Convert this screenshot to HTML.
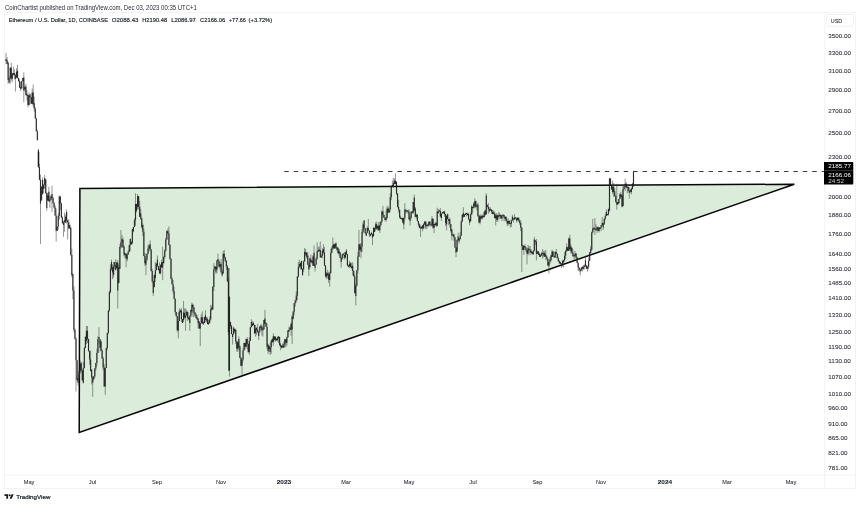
<!DOCTYPE html>
<html lang="en"><head><meta charset="utf-8"><title>ETHUSD chart</title>
<style>
html,body{margin:0;padding:0;background:#fff;}
body{width:860px;height:505px;overflow:hidden;font-family:"Liberation Sans",sans-serif;}
svg{display:block;}
text{font-family:"Liberation Sans",sans-serif;}
</style></head><body>
<svg width="860" height="505" viewBox="0 0 860 505">
<rect width="860" height="505" fill="#fff"/>
<!-- header -->
<g opacity="0.99" style="will-change:transform"><text x="5" y="9.8" font-size="6.8" fill="#262932" textLength="191.8" lengthAdjust="spacingAndGlyphs">CoinChartist published on TradingView.com, Dec 03, 2023 00:35 UTC+1</text></g>
<!-- frame -->
<g fill="none" stroke="#f2f3f5" stroke-width="1">
<rect x="4.5" y="12.5" width="851" height="476"/>
<path d="M824.7 12.5V488.5M4.5 475.1H855.5"/>
<rect x="826.6" y="14.5" width="26.8" height="11.6" rx="1.5" stroke="#eff0f3"/>
</g>
<!-- triangle -->
<path d="M79.9 188.4L794.3 184.2L79.2 432.5Z" fill="#dbecdb" stroke="#060606" stroke-width="1.5" stroke-linejoin="miter"/>
<!-- dashed level -->
<path d="M284.3 171.5H824.5" stroke="#333" stroke-width="0.95" stroke-dasharray="4.5 4.928" fill="none"/>
<!-- candles -->
<path d="M6.06 52.90V64.22M7.10 56.98V64.29M8.14 61.88V83.96M9.19 76.07V82.88M10.23 67.02V83.92M11.28 62.54V80.57M12.32 73.17V82.39M13.36 66.66V75.39M14.41 69.23V79.11M15.45 73.89V91.50M16.50 68.31V78.44M17.54 64.80V78.42M18.58 77.83V81.71M19.63 79.44V88.02M20.67 81.83V91.08M21.72 81.06V89.29M22.76 77.70V81.61M23.80 72.26V102.40M24.85 85.52V91.59M25.89 83.87V95.73M26.94 89.99V100.37M27.98 94.77V107.40M29.02 92.47V105.61M30.07 93.88V98.12M31.11 97.01V103.77M32.16 88.68V104.25M33.20 84.60V107.03M34.24 96.54V111.71M35.29 107.08V118.71M36.33 117.96V131.49M37.38 129.86V140.79M38.42 149.00V168.00M39.46 163.91V180.30M40.51 174.55V244.00M41.55 186.57V200.48M42.60 177.50V194.89M43.64 184.01V192.98M44.68 175.10V188.55M45.73 178.83V193.94M46.77 192.53V210.80M47.82 192.64V200.78M48.86 186.77V201.60M49.90 195.91V207.85M50.95 194.95V199.92M51.99 185.80V212.09M53.04 196.36V203.65M54.08 201.86V208.55M55.12 205.26V215.94M56.17 208.33V241.60M57.21 226.56V231.12M58.26 213.01V229.65M59.30 195.30V219.78M60.34 196.31V210.16M61.39 202.48V217.70M62.43 216.25V223.57M63.48 220.84V236.90M64.52 212.72V231.77M65.56 214.76V222.84M66.61 209.60V223.55M67.65 219.78V239.30M68.70 219.43V229.29M69.74 224.57V229.01M70.78 227.39V255.78M71.83 248.63V277.33M72.87 273.63V299.25M73.92 286.34V332.35M74.96 328.45V339.66M76.00 337.01V391.50M77.05 359.75V381.33M78.09 374.58V385.57M79.14 369.93V379.58M80.18 360.48V373.77M81.22 361.61V372.73M82.27 369.88V381.21M83.31 362.08V383.61M84.36 346.76V368.22M85.40 335.78V348.27M86.44 325.83V344.11M87.49 326.10V343.07M88.53 338.64V351.52M89.58 350.56V364.69M90.62 350.36V371.56M91.66 369.35V384.56M92.71 375.79V396.90M93.75 375.96V380.69M94.80 367.99V378.07M95.84 362.80V370.73M96.88 348.79V366.29M97.93 336.24V353.35M98.97 327.20V343.86M100.02 339.04V351.62M101.06 340.53V351.06M102.10 349.15V358.66M103.15 356.77V370.09M104.19 364.29V386.83M105.24 367.57V394.80M106.28 347.41V367.95M107.32 332.86V350.20M108.37 310.25V334.36M109.41 290.29V311.73M110.46 264.31V293.55M111.50 259.60V270.67M112.54 264.29V279.14M113.59 261.89V277.67M114.63 261.79V268.78M115.68 259.20V270.74M116.72 262.20V268.26M117.76 259.90V308.50M118.81 264.32V283.29M119.85 244.34V268.89M120.90 230.00V248.42M121.94 234.83V248.11M122.98 237.50V247.57M124.03 245.05V256.54M125.07 253.13V258.62M126.12 252.62V267.30M127.16 253.12V261.23M128.20 249.94V254.96M129.25 244.62V252.01M130.29 238.31V251.19M131.34 241.65V244.90M132.38 228.90V244.28M133.42 227.00V232.22M134.47 218.38V227.32M135.51 193.28V225.80M136.56 203.71V212.47M137.60 194.00V209.10M138.64 196.00V209.49M139.69 200.89V217.09M140.73 208.91V219.88M141.78 217.34V228.55M142.82 223.56V235.96M143.86 228.35V256.30M144.91 253.00V265.81M145.95 253.73V275.10M147.00 253.67V260.98M148.04 244.85V254.26M149.08 243.85V251.52M150.13 240.30V250.38M151.17 248.85V271.54M152.22 268.85V283.02M153.26 280.59V295.83M154.30 274.23V287.52M155.35 261.92V281.94M156.39 263.40V270.29M157.44 255.49V266.61M158.48 266.15V270.58M159.52 262.48V274.07M160.57 264.46V274.40M161.61 259.66V267.74M162.66 246.80V280.20M163.70 255.89V263.30M164.74 249.48V258.78M165.79 237.65V251.50M166.83 230.28V239.89M167.88 228.54V234.21M168.92 226.27V245.29M169.96 244.28V259.65M171.01 258.16V279.20M172.05 277.22V284.46M173.10 280.01V293.54M174.14 286.69V299.38M175.18 298.54V314.43M176.23 311.94V316.83M177.27 316.08V332.25M178.32 312.46V338.40M179.36 308.27V321.26M180.40 309.28V313.77M181.45 308.21V321.98M182.49 319.05V322.94M183.54 301.00V322.23M184.58 308.43V318.81M185.62 308.33V330.70M186.67 309.92V315.79M187.71 311.13V320.89M188.76 316.13V320.05M189.80 314.77V330.85M190.84 309.14V316.83M191.89 302.54V313.80M192.93 303.60V316.72M193.98 306.80V317.12M195.02 312.12V316.23M196.06 313.45V318.33M197.11 314.87V319.84M198.15 318.20V328.45M199.20 321.21V329.00M200.24 323.21V346.10M201.28 313.84V323.39M202.33 311.30V323.63M203.37 321.52V324.74M204.42 316.76V323.07M205.46 310.24V321.97M206.50 316.91V322.59M207.55 317.18V324.42M208.59 319.92V324.94M209.64 316.29V323.20M210.68 304.72V320.61M211.72 305.75V310.73M212.77 286.09V309.84M213.81 263.15V291.10M214.86 265.94V269.56M215.90 265.89V274.04M216.94 260.19V273.28M217.99 253.50V264.50M219.03 259.68V267.97M220.08 262.08V269.81M221.12 259.09V273.56M222.16 269.84V276.65M223.21 250.90V273.70M224.25 249.93V259.27M225.30 256.86V261.88M226.34 259.86V269.98M227.38 264.90V282.01M228.43 277.56V335.06M229.47 296.00V376.60M230.52 321.59V329.02M231.56 325.16V334.47M232.60 333.86V344.60M233.65 326.84V334.25M234.69 328.87V332.57M235.74 328.67V344.08M236.78 340.67V351.67M237.82 341.13V351.92M238.87 336.48V350.32M239.91 345.31V358.33M240.96 356.79V366.49M242.00 357.69V374.70M243.04 347.85V361.62M244.09 342.67V350.43M245.13 342.71V349.44M246.18 338.69V347.12M247.22 337.00V349.30M248.26 343.39V352.29M249.31 337.31V355.00M250.35 326.66V341.15M251.40 319.20V327.27M252.44 321.15V326.27M253.48 321.66V325.50M254.53 324.58V333.80M255.57 325.06V336.71M256.62 327.37V335.10M257.66 323.78V333.09M258.70 331.40V340.00M259.75 326.04V332.79M260.79 324.29V329.70M261.84 324.24V335.43M262.88 326.32V336.51M263.92 319.99V329.51M264.97 309.80V323.75M266.01 322.13V326.98M267.06 323.28V348.92M268.10 343.63V354.00M269.14 345.60V351.85M270.19 342.94V355.00M271.23 339.79V353.88M272.28 337.96V342.37M273.32 333.44V345.81M274.36 336.10V340.36M275.41 336.23V341.66M276.45 338.52V340.66M277.50 336.50V341.64M278.54 336.09V343.04M279.58 336.68V346.33M280.63 342.83V350.31M281.67 345.41V348.43M282.72 343.50V347.59M283.76 341.65V347.98M284.80 338.73V347.67M285.85 339.05V346.92M286.89 336.53V345.74M287.94 330.20V337.78M288.98 326.55V331.69M290.02 326.41V330.30M291.07 322.35V335.83M292.11 315.28V343.91M293.16 310.88V319.43M294.20 302.86V315.27M295.24 299.42V306.72M296.29 291.47V302.71M297.33 276.36V300.31M298.38 262.00V277.81M299.42 259.79V268.27M300.46 262.04V269.73M301.51 260.67V269.93M302.55 268.15V275.43M303.60 260.43V271.89M304.64 248.00V261.56M305.68 248.88V256.33M306.73 252.28V258.66M307.77 252.41V264.72M308.82 262.41V276.20M309.86 257.42V268.56M310.90 254.63V262.50M311.95 260.43V263.40M312.99 255.13V265.80M314.04 245.41V265.99M315.08 264.25V271.50M316.12 256.96V264.88M317.17 242.30V259.98M318.21 247.06V252.07M319.26 246.40V251.72M320.30 241.44V257.73M321.34 254.40V257.69M322.39 248.19V258.32M323.43 244.20V253.98M324.48 246.93V265.98M325.52 264.99V277.57M326.56 272.06V279.16M327.61 269.81V278.34M328.65 272.01V282.88M329.70 271.56V286.60M330.74 248.81V273.57M331.78 246.43V253.34M332.83 237.60V250.03M333.87 242.76V248.82M334.92 243.91V248.73M335.96 242.25V248.54M337.00 246.63V251.12M338.05 247.04V253.88M339.09 248.53V255.79M340.14 252.23V258.07M341.18 257.08V267.70M342.22 253.99V259.62M343.27 253.45V255.25M344.31 252.12V259.60M345.36 252.01V258.74M346.40 248.90V254.89M347.44 253.88V266.31M348.49 264.62V267.46M349.53 260.95V268.05M350.58 261.97V267.53M351.62 262.76V269.48M352.66 262.46V275.45M353.71 270.40V276.66M354.75 274.22V293.59M355.80 283.23V305.40M356.84 270.09V286.88M357.88 252.18V273.72M358.93 230.00V256.81M359.97 243.55V250.22M361.02 243.08V258.30M362.06 228.97V251.92M363.10 221.85V233.41M364.15 220.07V229.40M365.19 228.19V233.64M366.24 232.29V235.91M367.28 226.19V233.08M368.32 218.80V230.74M369.37 230.47V237.06M370.41 233.72V236.54M371.46 231.71V235.27M372.50 233.73V245.10M373.54 226.78V236.43M374.59 227.39V231.91M375.63 222.10V230.59M376.68 221.65V229.95M377.72 225.77V230.79M378.76 222.06V230.78M379.81 222.17V233.10M380.85 221.28V226.49M381.90 210.31V223.19M382.94 205.80V217.60M383.98 214.75V217.85M385.03 217.33V220.67M386.07 210.39V221.90M387.12 205.88V218.59M388.16 206.46V212.82M389.20 207.84V213.10M390.25 193.40V211.91M391.29 185.88V199.95M392.34 180.42V187.25M393.38 177.50V187.89M394.42 178.53V184.54M395.47 173.48V184.51M396.51 181.41V195.04M397.56 193.28V207.59M398.60 199.79V212.61M399.64 209.47V218.41M400.69 215.73V219.03M401.73 217.97V219.49M402.78 217.64V223.18M403.82 217.51V229.30M404.86 203.00V220.28M405.91 208.90V213.25M406.95 210.43V212.37M408.00 209.89V213.93M409.04 209.19V219.49M410.08 215.32V225.60M411.13 211.41V219.32M412.17 210.79V214.17M413.22 201.80V213.43M414.26 194.50V211.50M415.30 206.78V217.45M416.35 213.44V218.70M417.39 214.54V221.48M418.44 220.99V226.43M419.48 223.58V228.18M420.52 225.22V236.90M421.57 226.25V228.80M422.61 224.90V231.29M423.66 223.53V228.56M424.70 220.90V224.67M425.74 220.98V229.08M426.79 223.15V229.09M427.83 224.34V226.67M428.88 221.08V226.61M429.92 221.16V225.34M430.96 224.35V226.68M432.01 216.10V225.99M433.05 218.56V228.76M434.10 223.73V233.10M435.14 221.84V225.45M436.18 222.34V226.88M437.23 207.70V226.46M438.27 209.02V213.91M439.32 209.73V211.62M440.36 207.86V217.50M441.40 213.53V220.90M442.45 211.83V213.70M443.49 211.59V213.86M444.54 210.77V216.61M445.58 213.88V226.18M446.62 215.78V230.30M447.67 213.46V219.40M448.71 218.98V225.26M449.76 217.55V227.27M450.80 224.03V232.37M451.84 229.01V240.30M452.89 234.39V236.34M453.93 233.40V240.84M454.98 236.79V247.91M456.02 247.48V257.20M457.06 239.32V251.97M458.11 232.70V241.78M459.15 238.05V243.59M460.20 232.13V239.54M461.24 220.23V235.91M462.28 214.43V222.04M463.33 207.30V217.80M464.37 214.22V217.15M465.42 212.74V215.20M466.46 212.81V216.45M467.50 212.57V215.69M468.55 212.77V220.15M469.59 218.85V225.20M470.64 212.70V221.51M471.68 204.76V214.76M472.72 206.40V212.86M473.77 202.09V208.79M474.81 198.22V207.64M475.86 200.30V208.14M476.90 204.33V210.41M477.94 202.61V216.36M478.99 215.12V223.30M480.03 214.50V224.42M481.08 214.62V220.09M482.12 214.48V219.18M483.16 215.40V218.44M484.21 210.63V217.59M485.25 209.56V215.67M486.30 193.20V215.00M487.34 204.42V207.28M488.38 203.11V213.74M489.43 207.08V212.35M490.47 207.48V210.57M491.52 209.34V213.85M492.56 209.90V214.43M493.60 210.43V214.53M494.65 211.50V218.17M495.69 213.39V225.48M496.74 213.12V221.76M497.78 214.44V221.74M498.82 211.89V216.98M499.87 213.26V218.91M500.91 214.90V218.53M501.96 215.36V220.97M503.00 214.49V216.31M504.04 214.60V221.43M505.09 216.72V220.13M506.13 216.69V221.21M507.18 219.22V226.10M508.22 218.42V225.70M509.26 220.02V224.05M510.31 222.66V227.57M511.35 219.82V227.10M512.40 214.80V221.13M513.44 217.72V222.67M514.48 214.17V219.62M515.53 216.87V219.32M516.57 217.54V222.52M517.62 217.41V220.44M518.66 217.57V222.07M519.70 219.62V224.76M520.75 220.57V231.18M521.79 227.08V272.00M522.84 245.12V250.31M523.88 245.41V254.99M524.92 244.17V248.39M525.97 246.83V251.91M527.01 249.72V264.40M528.06 245.00V255.25M529.10 246.01V250.30M530.14 246.05V255.35M531.19 249.29V253.22M532.23 251.75V254.39M533.28 250.04V254.97M534.32 236.80V251.58M535.36 239.84V244.86M536.41 238.91V260.30M537.45 250.52V254.11M538.50 251.27V254.73M539.54 253.06V256.93M540.58 253.92V256.86M541.63 251.87V256.29M542.67 249.00V258.61M543.72 250.90V257.48M544.76 250.97V256.74M545.80 249.88V260.15M546.85 255.83V260.20M547.89 258.74V266.40M548.94 261.71V273.50M549.98 257.03V263.85M551.02 254.71V261.20M552.07 249.64V257.15M553.11 250.98V256.41M554.16 255.83V257.98M555.20 251.25V257.86M556.24 249.00V253.75M557.29 253.14V258.51M558.33 256.64V261.67M559.38 260.05V263.61M560.42 261.74V264.13M561.46 263.31V267.90M562.51 259.57V266.69M563.55 259.82V267.51M564.60 251.86V261.61M565.64 249.65V258.84M566.68 243.27V251.54M567.73 246.42V250.75M568.77 237.53V250.94M569.82 234.90V250.33M570.86 244.36V253.67M571.90 247.15V253.83M572.95 249.78V256.99M573.99 254.95V259.81M575.04 251.03V258.06M576.08 253.27V258.46M577.12 256.82V263.17M578.17 262.40V271.43M579.21 267.27V270.81M580.26 269.04V275.40M581.30 267.06V270.50M582.34 266.12V271.68M583.39 264.99V269.82M584.43 264.44V269.52M585.48 255.60V267.17M586.52 265.09V268.92M587.56 265.93V271.60M588.61 257.71V269.27M589.65 252.26V261.13M590.70 246.33V253.60M591.74 231.51V250.45M592.78 218.90V233.44M593.83 226.48V229.75M594.87 218.00V235.00M595.92 223.89V230.85M596.96 226.17V232.91M598.00 226.53V231.15M599.05 226.96V232.50M600.09 227.19V229.19M601.14 225.04V231.22M602.18 217.00V225.78M603.22 222.67V230.00M604.27 218.54V224.78M605.31 213.76V220.47M606.36 209.50V216.14M607.40 213.76V215.41M608.44 208.49V215.46M609.49 177.80V211.60M610.53 178.33V185.47M611.58 185.38V189.52M612.62 180.80V194.20M613.66 183.05V196.96M614.71 188.46V196.47M615.75 194.94V202.87M616.80 183.80V209.80M617.84 201.73V204.89M618.88 199.05V203.87M619.93 193.16V199.42M620.97 191.65V197.04M622.02 194.50V207.50M623.06 185.59V206.42M624.10 185.91V189.64M625.15 178.60V191.20M626.19 182.05V187.92M627.24 185.06V193.22M628.28 186.48V191.36M629.32 187.32V198.60M630.37 189.23V192.83M631.41 187.67V194.27M632.46 182.89V189.40M633.50 170.60V186.60" stroke="#353835" stroke-width="0.85" fill="none" opacity="0.62"/>
<path d="M6.06 59.09V61.04M7.10 60.24V63.67M8.14 62.80V79.67M9.19 78.52V82.60M10.23 67.82V78.52M11.28 67.82V78.84M12.32 73.48V78.84M13.36 72.92V74.87M14.41 73.09V75.33M15.45 75.33V78.70M16.50 71.75V77.41M17.54 70.70V77.95M18.58 77.95V81.33M19.63 81.33V87.56M20.67 86.94V88.89M21.72 81.12V88.26M22.76 78.00V81.12M23.80 77.55V90.50M24.85 87.23V89.18M25.89 86.60V94.67M26.94 93.80V95.75M27.98 95.04V105.00M29.02 95.38V104.92M30.07 94.50V97.26M31.11 97.26V103.75M32.16 92.50V103.75M33.20 92.50V104.40M34.24 103.34V108.78M35.29 108.78V118.57M36.33 118.57V131.19M37.38 131.19V140.02M38.42 150.00V167.00M39.46 166.74V179.79M40.51 179.79V203.60M41.55 186.60V200.47M42.60 180.00V194.00M43.64 184.64V189.03M44.68 178.00V184.64M45.73 179.55V193.12M46.77 193.12V208.00M47.82 195.19V200.57M48.86 191.80V201.27M49.90 199.56V201.51M50.95 196.51V199.77M51.99 194.10V198.11M53.04 198.11V203.11M54.08 203.11V207.60M55.12 207.60V215.55M56.17 215.55V230.77M57.21 226.72V230.77M58.26 216.02V226.72M59.30 196.38V216.02M60.34 196.38V203.62M61.39 203.60V217.67M62.43 217.67V223.20M63.48 222.16V225.00M64.52 220.31V222.26M65.56 216.65V222.60M66.61 212.00V220.49M67.65 220.28V222.23M68.70 222.21V228.35M69.74 225.00V228.35M70.78 227.73V254.88M71.83 254.88V275.00M72.87 273.97V290.47M73.92 290.47V329.65M74.96 329.65V338.72M76.00 338.72V360.22M77.05 360.22V380.01M78.09 378.25V382.80M79.14 371.20V378.25M80.18 363.20V371.20M81.22 363.20V370.46M82.27 370.46V380.19M83.31 367.98V382.80M84.36 348.07V367.98M85.40 337.00V348.07M86.44 330.82V340.76M87.49 330.82V339.00M88.53 339.00V351.24M89.58 351.24V359.50M90.62 359.50V370.90M91.66 369.70V377.60M92.71 377.60V382.80M93.75 376.34V378.91M94.80 368.60V376.34M95.84 363.03V368.60M96.88 352.93V363.03M97.93 339.13V352.93M98.97 337.00V339.36M100.02 339.36V347.64M101.06 341.40V350.37M102.10 350.37V358.47M103.15 358.47V367.50M104.19 367.38V386.49M105.24 367.93V386.49M106.28 348.11V367.93M107.32 332.97V348.11M108.37 310.41V332.97M109.41 291.99V310.41M110.46 268.69V291.99M111.50 262.00V269.24M112.54 267.30V272.53M113.59 266.19V275.10M114.63 262.20V266.19M115.68 265.34V269.90M116.72 262.20V268.20M117.76 262.72V290.50M118.81 267.30V283.05M119.85 247.05V268.79M120.90 242.24V247.05M121.94 239.00V242.24M122.98 239.85V247.28M124.03 246.80V254.50M125.07 253.26V255.15M126.12 253.90V258.25M127.16 254.42V259.60M128.20 251.76V254.42M129.25 245.35V251.76M130.29 239.00V245.35M131.34 241.68V244.20M132.38 229.36V242.93M133.42 227.05V231.30M134.47 220.23V227.05M135.51 203.98V220.23M136.56 203.98V210.70M137.60 196.13V206.89M138.64 196.13V206.65M139.69 206.65V216.76M140.73 213.30V218.48M141.78 218.48V227.18M142.82 224.90V231.64M143.86 231.64V255.89M144.91 255.89V263.30M145.95 259.62V264.80M147.00 254.09V259.62M148.04 248.46V254.09M149.08 245.88V248.46M150.13 244.20V249.63M151.17 249.63V270.91M152.22 270.91V281.24M153.26 281.24V293.10M154.30 275.10V286.89M155.35 270.24V277.97M156.39 263.47V270.24M157.44 259.60V266.30M158.48 266.30V269.90M159.52 268.87V273.17M160.57 264.71V273.17M161.61 262.20V267.49M162.66 262.20V267.49M163.70 257.08V263.24M164.74 250.53V257.08M165.79 239.38V250.53M166.83 231.00V239.38M167.88 231.22V233.27M168.92 233.27V245.11M169.96 245.11V258.74M171.01 258.74V278.70M172.05 278.70V284.36M173.10 284.36V291.30M174.14 291.30V298.64M175.18 298.64V311.96M176.23 311.96V316.13M177.27 316.13V330.02M178.32 321.00V330.70M179.36 311.49V321.00M180.40 310.14V312.02M181.45 310.66V319.20M182.49 319.20V322.90M183.54 312.60V320.25M184.58 312.82V317.58M185.62 315.49V317.80M186.67 311.91V315.49M187.71 311.91V318.29M188.76 317.71V319.59M189.80 316.31V322.90M190.84 310.10V316.31M191.89 304.72V311.49M192.93 304.72V307.42M193.98 307.42V312.71M195.02 312.60V314.52M196.06 314.52V317.90M197.11 317.30V319.19M198.15 318.59V322.90M199.20 321.59V328.44M200.24 323.23V328.44M201.28 317.26V323.23M202.33 317.26V323.47M203.37 322.24V324.13M204.42 316.99V323.01M205.46 315.20V319.68M206.50 318.46V320.35M207.55 319.13V323.95M208.59 322.48V324.37M209.64 319.46V323.08M210.68 309.27V319.46M211.72 307.50V309.42M212.77 286.84V309.42M213.81 269.26V286.90M214.86 266.30V269.26M215.90 267.09V271.50M216.94 260.48V269.54M217.99 259.00V261.03M219.03 261.03V266.73M220.08 264.14V266.73M221.12 263.80V272.08M222.16 272.08V275.30M223.21 253.70V273.20M224.25 253.70V257.58M225.30 257.58V261.20M226.34 261.06V266.37M227.38 266.37V281.17M228.43 281.17V331.97M229.47 297.00V370.00M230.52 322.00V326.15M231.56 325.68V334.07M232.60 334.07V337.10M233.65 327.70V334.14M234.69 328.91V331.40M235.74 330.10V341.38M236.78 341.38V348.74M237.82 342.15V348.74M238.87 339.00V347.41M239.91 346.50V358.06M240.96 358.06V365.70M242.00 359.38V365.70M243.04 350.39V359.38M244.09 342.91V350.39M245.13 342.91V346.80M246.18 338.93V346.80M247.22 338.93V343.90M248.26 343.90V352.26M249.31 341.02V352.26M250.35 327.19V341.02M251.40 322.00V327.19M252.44 323.76V325.80M253.48 323.00V325.06M254.53 325.06V333.23M255.57 328.39V333.23M256.62 327.70V330.18M257.66 329.86V331.74M258.70 331.42V336.10M259.75 326.70V331.77M260.79 325.86V327.74M261.84 326.72V330.14M262.88 328.43V330.31M263.92 320.06V329.20M264.97 318.20V323.63M266.01 323.00V326.76M267.06 326.76V346.50M268.10 344.71V351.20M269.14 345.93V349.23M270.19 347.23V352.10M271.23 340.80V347.23M272.28 339.00V342.17M273.32 336.34V342.17M274.36 336.40V339.90M275.41 336.70V340.29M276.45 338.65V340.53M277.50 337.35V339.90M278.54 336.51V338.40M279.58 336.91V345.01M280.63 344.60V346.84M281.67 345.85V347.74M282.72 345.60V347.53M283.76 344.23V347.53M284.80 339.18V344.60M285.85 339.18V342.75M286.89 337.33V342.75M287.94 330.50V337.33M288.98 329.75V331.63M290.02 327.70V329.86M291.07 323.90V329.86M292.11 316.40V329.54M293.16 311.77V318.68M294.20 303.18V311.77M295.24 300.42V303.20M296.29 295.60V300.42M297.33 276.38V295.70M298.38 266.63V276.38M299.42 263.88V266.63M300.46 263.21V266.80M301.51 261.10V268.88M302.55 268.88V275.30M303.60 261.41V269.14M304.64 251.70V261.41M305.68 252.60V254.50M306.73 252.60V256.80M307.77 255.50V264.72M308.82 264.72V269.60M309.86 258.30V266.90M310.90 259.32V262.10M311.95 260.79V262.86M312.99 256.46V265.80M314.04 252.70V265.67M315.08 264.49V267.70M316.12 258.55V264.49M317.17 251.34V258.55M318.21 250.17V251.67M319.26 249.40V250.90M320.30 250.04V257.29M321.34 255.67V257.40M322.39 250.85V255.67M323.43 248.90V252.49M324.48 252.49V265.86M325.52 265.86V276.44M326.56 273.37V276.44M327.61 273.37V275.30M328.65 274.25V279.81M329.70 273.11V280.00M330.74 252.73V273.11M331.78 248.28V252.73M332.83 245.14V248.28M333.87 244.20V248.56M334.92 243.96V248.56M335.96 243.20V247.20M337.00 247.20V249.80M338.05 248.36V253.37M339.09 250.80V253.37M340.14 252.24V258.04M341.18 258.04V262.10M342.22 254.46V258.43M343.27 253.50V254.99M344.31 254.89V257.77M345.36 252.34V257.77M346.40 250.80V254.23M347.44 254.23V265.41M348.49 265.36V266.85M349.53 263.61V266.25M350.58 263.61V267.10M351.62 266.62V268.11M352.66 265.80V271.03M353.71 271.03V276.16M354.75 276.16V293.06M355.80 285.46V296.00M356.84 270.29V285.46M357.88 256.40V270.29M358.93 244.27V256.68M359.97 244.27V249.80M361.02 246.86V251.70M362.06 231.73V246.86M363.10 224.38V231.73M364.15 220.60V228.24M365.19 228.24V233.30M366.24 232.64V235.70M367.28 227.88V232.64M368.32 227.88V230.49M369.37 230.49V234.47M370.41 233.88V235.70M371.46 232.66V234.16M372.50 233.92V237.60M373.54 228.03V236.31M374.59 228.03V231.90M375.63 224.16V228.40M376.68 224.16V228.74M377.72 225.81V228.74M378.76 225.81V230.23M379.81 224.93V230.23M380.85 221.57V224.93M381.90 211.42V221.57M382.94 211.40V214.88M383.98 214.88V217.82M385.03 217.82V219.97M386.07 217.56V219.97M387.12 208.54V218.00M388.16 208.54V212.55M389.20 209.29V212.55M390.25 197.27V209.29M391.29 186.26V197.27M392.34 185.08V186.58M393.38 183.20V186.56M394.42 180.67V184.06M395.47 180.67V184.10M396.51 181.77V193.40M397.56 193.40V207.00M398.60 207.00V209.79M399.64 209.79V217.61M400.69 217.61V219.02M401.73 218.30V219.47M402.78 218.00V222.52M403.82 217.83V224.60M404.86 209.60V217.83M405.91 210.26V211.43M406.95 210.44V211.61M408.00 210.50V211.81M409.04 211.81V219.31M410.08 217.70V220.90M411.13 211.72V217.70M412.17 211.62V212.79M413.22 201.99V212.69M414.26 197.50V210.50M415.30 208.38V216.69M416.35 214.76V216.69M417.39 214.76V221.09M418.44 221.09V224.60M419.48 224.29V228.07M420.52 227.41V228.58M421.57 226.50V228.49M422.61 225.60V228.42M423.66 223.73V228.42M424.70 221.65V224.60M425.74 221.65V226.50M426.79 224.65V225.82M427.83 224.50V225.67M428.88 221.80V225.60M429.92 221.80V224.60M430.96 224.40V225.57M432.01 218.76V225.60M433.05 218.76V227.79M434.10 224.03V227.79M435.14 223.71V224.88M436.18 222.70V225.87M437.23 211.40V225.87M438.27 211.41V212.91M439.32 210.37V211.54M440.36 210.99V216.44M441.40 213.53V218.00M442.45 212.05V213.53M443.49 211.62V212.79M444.54 211.40V214.28M445.58 214.28V222.93M446.62 215.85V224.60M447.67 214.30V218.98M448.71 218.98V220.90M449.76 219.26V224.12M450.80 224.12V230.80M451.84 229.39V235.60M452.89 234.50V235.67M453.93 234.60V237.62M454.98 237.40V247.48M456.02 247.48V252.50M457.06 240.02V251.60M458.11 236.50V240.02M459.15 238.51V241.20M460.20 235.66V239.30M461.24 221.76V235.66M462.28 214.63V221.76M463.33 213.00V216.80M464.37 214.41V216.80M465.42 213.79V214.96M466.46 212.89V214.06M467.50 213.71V214.88M468.55 213.90V219.23M469.59 219.23V222.40M470.64 214.39V221.32M471.68 206.40V214.39M472.72 206.90V208.07M473.77 203.50V207.66M474.81 201.22V206.26M475.86 201.22V206.82M476.90 205.40V206.82M477.94 204.50V216.19M478.99 215.80V222.46M480.03 216.25V222.46M481.08 216.25V218.41M482.12 215.80V218.41M483.16 215.81V217.05M484.21 212.30V217.05M485.25 210.45V214.80M486.30 195.50V214.00M487.34 205.08V206.74M488.38 206.74V209.35M489.43 209.35V211.10M490.47 209.23V210.40M491.52 209.53V211.99M492.56 211.99V213.90M493.60 212.36V213.79M494.65 213.79V218.16M495.69 215.35V218.16M496.74 215.35V219.77M497.78 215.26V219.77M498.82 215.26V216.70M499.87 214.85V216.02M500.91 214.92V218.51M501.96 215.54V218.51M503.00 214.59V215.76M504.04 215.05V217.70M505.09 216.76V218.82M506.13 216.70V221.05M507.18 221.05V223.60M508.22 221.01V223.60M509.26 221.01V223.92M510.31 223.19V224.36M511.35 220.26V223.63M512.40 216.70V220.26M513.44 218.45V219.62M514.48 217.60V219.49M515.53 217.51V218.68M516.57 218.57V220.50M517.62 217.73V220.24M518.66 217.73V220.60M519.70 220.60V223.11M520.75 223.11V227.64M521.79 227.64V245.90M522.84 245.17V250.08M523.88 246.14V250.08M524.92 246.00V247.71M525.97 247.71V250.06M527.01 250.06V253.73M528.06 248.00V253.73M529.10 248.90V250.07M530.14 249.49V252.55M531.19 250.90V252.73M532.23 251.90V254.27M533.28 250.77V254.27M534.32 239.60V250.77M535.36 240.60V241.80M536.41 241.50V253.70M537.45 251.51V253.70M538.50 251.51V254.70M539.54 253.70V256.84M540.58 255.32V256.84M541.63 253.28V255.60M542.67 252.68V253.85M543.72 252.92V255.60M544.76 252.92V256.70M545.80 254.70V256.70M546.85 256.70V258.74M547.89 258.74V265.16M548.94 261.96V266.00M549.98 259.40V261.96M551.02 255.60V260.27M552.07 251.52V257.08M553.11 251.52V256.16M554.16 255.99V257.16M555.20 251.95V257.50M556.24 251.90V253.66M557.29 253.66V258.29M558.33 258.29V261.15M559.38 261.15V263.20M560.42 262.14V264.10M561.46 263.49V265.12M562.51 261.23V265.12M563.55 260.24V262.20M564.60 255.85V260.24M565.64 250.90V255.85M566.68 247.10V251.20M567.73 247.41V250.67M568.77 238.54V250.67M569.82 238.54V249.00M570.86 246.54V250.90M571.90 248.12V252.64M572.95 252.64V256.04M573.99 255.24V256.41M575.04 253.48V255.87M576.08 253.48V257.50M577.12 257.23V262.91M578.17 262.91V267.52M579.21 267.52V269.73M580.26 269.73V271.60M581.30 267.90V270.38M582.34 266.89V268.70M583.39 266.44V268.80M584.43 265.63V266.80M585.48 260.30V266.26M586.52 265.44V268.82M587.56 266.63V268.82M588.61 260.76V266.63M589.65 252.37V260.76M590.70 249.00V252.80M591.74 232.16V249.55M592.78 228.30V232.16M593.83 228.34V229.51M594.87 228.11V229.28M595.92 229.06V230.23M596.96 227.27V229.41M598.00 227.27V230.95M599.05 227.40V230.95M600.09 227.70V228.98M601.14 225.28V227.70M602.18 222.70V225.28M603.22 223.44V227.40M604.27 218.69V224.28M605.31 215.91V218.69M606.36 212.00V215.91M607.40 214.14V215.31M608.44 209.07V214.42M609.49 178.60V210.50M610.53 178.60V185.42M611.58 185.42V189.44M612.62 186.70V191.90M613.66 186.78V192.32M614.71 191.20V196.37M615.75 196.37V201.86M616.80 201.86V204.62M617.84 202.30V204.62M618.88 199.09V203.18M619.93 194.37V199.09M620.97 194.37V196.89M622.02 195.60V206.80M623.06 189.08V206.00M624.10 186.54V189.08M625.15 183.78V186.54M626.19 183.78V187.59M627.24 186.73V187.90M628.28 187.05V190.78M629.32 190.78V192.70M630.37 189.98V191.60M631.41 188.46V191.90M632.46 183.64V189.00M633.50 171.90V186.20" stroke="#171917" stroke-width="1.15" fill="none" opacity="0.84"/>
<path d="M228.80 268.00V371.00" stroke="#171917" stroke-width="1.20" opacity="0.78"/><path d="M38.60 152.00V166.00" stroke="#171917" stroke-width="1.50" opacity="0.78"/>
<!-- legend -->
<g font-size="5.5" fill="#131722" stroke="#131722" stroke-width="0.14" opacity="0.99" style="will-change:transform">
<text x="8.7" y="21.8" textLength="99.4" lengthAdjust="spacingAndGlyphs">Ethereum / U.S. Dollar, 1D, COINBASE</text>
<text x="111.8" y="21.8" textLength="26.6" lengthAdjust="spacingAndGlyphs">O2088.43</text>
<text x="142.2" y="21.8" textLength="24.9" lengthAdjust="spacingAndGlyphs">H2190.48</text>
<text x="171.2" y="21.8" textLength="24.7" lengthAdjust="spacingAndGlyphs">L2086.97</text>
<text x="200.1" y="21.8" textLength="25" lengthAdjust="spacingAndGlyphs">C2166.06</text>
<text x="228.9" y="21.8" textLength="16.9" lengthAdjust="spacingAndGlyphs">+77.66</text>
<text x="248.6" y="21.8" textLength="23.6" lengthAdjust="spacingAndGlyphs">(+3.72%)</text>
</g>
<!-- price axis -->
<g font-size="5.9" fill="#1f222b" stroke="#1f222b" stroke-width="0.07" opacity="0.99" style="will-change:transform">
<text x="830.8" y="22.7" textLength="11.4" lengthAdjust="spacingAndGlyphs">USD</text>
<text x="828.3" y="38.22" textLength="22.6" lengthAdjust="spacingAndGlyphs">3500.00</text><text x="828.3" y="55.15" textLength="22.6" lengthAdjust="spacingAndGlyphs">3300.00</text><text x="828.3" y="73.13" textLength="22.6" lengthAdjust="spacingAndGlyphs">3100.00</text><text x="828.3" y="92.32" textLength="22.6" lengthAdjust="spacingAndGlyphs">2900.00</text><text x="828.3" y="112.88" textLength="22.6" lengthAdjust="spacingAndGlyphs">2700.00</text><text x="828.3" y="135.02" textLength="22.6" lengthAdjust="spacingAndGlyphs">2500.00</text><text x="828.3" y="159.01" textLength="22.6" lengthAdjust="spacingAndGlyphs">2300.00</text><text x="828.3" y="199.22" textLength="22.6" lengthAdjust="spacingAndGlyphs">2000.00</text><text x="828.3" y="217.02" textLength="22.6" lengthAdjust="spacingAndGlyphs">1880.00</text><text x="828.3" y="236.00" textLength="22.6" lengthAdjust="spacingAndGlyphs">1760.00</text><text x="828.3" y="256.31" textLength="22.6" lengthAdjust="spacingAndGlyphs">1640.00</text><text x="828.3" y="270.70" textLength="22.6" lengthAdjust="spacingAndGlyphs">1560.00</text><text x="828.3" y="284.88" textLength="22.6" lengthAdjust="spacingAndGlyphs">1485.00</text><text x="828.3" y="299.79" textLength="22.6" lengthAdjust="spacingAndGlyphs">1410.00</text><text x="828.3" y="316.59" textLength="22.6" lengthAdjust="spacingAndGlyphs">1330.00</text><text x="828.3" y="334.44" textLength="22.6" lengthAdjust="spacingAndGlyphs">1250.00</text><text x="828.3" y="348.59" textLength="22.6" lengthAdjust="spacingAndGlyphs">1190.00</text><text x="828.3" y="363.48" textLength="22.6" lengthAdjust="spacingAndGlyphs">1130.00</text><text x="828.3" y="379.17" textLength="22.6" lengthAdjust="spacingAndGlyphs">1070.00</text><text x="828.3" y="395.78" textLength="22.6" lengthAdjust="spacingAndGlyphs">1010.00</text><text x="828.3" y="410.38" textLength="19.3" lengthAdjust="spacingAndGlyphs">960.00</text><text x="828.3" y="425.77" textLength="19.3" lengthAdjust="spacingAndGlyphs">910.00</text><text x="828.3" y="440.36" textLength="19.3" lengthAdjust="spacingAndGlyphs">865.00</text><text x="828.3" y="455.38" textLength="19.3" lengthAdjust="spacingAndGlyphs">821.00</text><text x="828.3" y="469.75" textLength="19.3" lengthAdjust="spacingAndGlyphs">781.00</text>
</g>
<!-- price tags -->
<path d="M824 162.1H852.3Q853.3 162.1 853.3 163.1V170.15H824Z" fill="#000"/>
<path d="M824 170.3H853.3V183.6Q853.3 184.6 852.3 184.6H824Z" fill="#000"/>
<g font-size="5.9" fill="#fff" opacity="0.99" style="will-change:transform">
<text x="828.3" y="168.1" textLength="22.6" lengthAdjust="spacingAndGlyphs">2185.77</text>
<text x="828.3" y="176.5" textLength="22.6" lengthAdjust="spacingAndGlyphs">2166.06</text>
<text x="828.3" y="183" textLength="15.7" lengthAdjust="spacingAndGlyphs" fill="#d6d6d6">24:52</text>
</g>
<!-- time axis -->
<g font-size="5.6" fill="#262932" stroke="#262932" stroke-width="0.05" opacity="0.99" style="will-change:transform">
<text x="29.1" y="483.8" text-anchor="middle" textLength="10.7" lengthAdjust="spacingAndGlyphs">May</text><text x="92.5" y="483.8" text-anchor="middle" textLength="7.5" lengthAdjust="spacingAndGlyphs">Jul</text><text x="157.0" y="483.8" text-anchor="middle" textLength="10.0" lengthAdjust="spacingAndGlyphs">Sep</text><text x="221.0" y="483.8" text-anchor="middle" textLength="10.0" lengthAdjust="spacingAndGlyphs">Nov</text><text x="284.0" y="483.8" text-anchor="middle" textLength="14.5" lengthAdjust="spacingAndGlyphs" font-weight="700" fill="#131722">2023</text><text x="346.0" y="483.8" text-anchor="middle" textLength="9.6" lengthAdjust="spacingAndGlyphs">Mar</text><text x="409.0" y="483.8" text-anchor="middle" textLength="10.7" lengthAdjust="spacingAndGlyphs">May</text><text x="473.0" y="483.8" text-anchor="middle" textLength="7.5" lengthAdjust="spacingAndGlyphs">Jul</text><text x="537.5" y="483.8" text-anchor="middle" textLength="10.0" lengthAdjust="spacingAndGlyphs">Sep</text><text x="601.0" y="483.8" text-anchor="middle" textLength="10.0" lengthAdjust="spacingAndGlyphs">Nov</text><text x="665.0" y="483.8" text-anchor="middle" textLength="14.5" lengthAdjust="spacingAndGlyphs" font-weight="700" fill="#131722">2024</text><text x="727.0" y="483.8" text-anchor="middle" textLength="9.6" lengthAdjust="spacingAndGlyphs">Mar</text><text x="791.0" y="483.8" text-anchor="middle" textLength="10.7" lengthAdjust="spacingAndGlyphs">May</text>
</g>
<!-- TradingView logo -->
<g transform="translate(4.5 493.15) scale(0.257 0.252)" fill="#131722">
<path d="M14 22H7V11H0V4h14v18z"/><circle cx="20" cy="8" r="4"/><path d="M28 22h-8l7.500-18h8L28 22z"/>
</g>
<g opacity="0.99" style="will-change:transform"><text x="16.2" y="498.6" font-size="5.7" fill="#131722" textLength="34.2" lengthAdjust="spacingAndGlyphs" stroke="#131722" stroke-width="0.2">TradingView</text></g>
</svg>
</body></html>
